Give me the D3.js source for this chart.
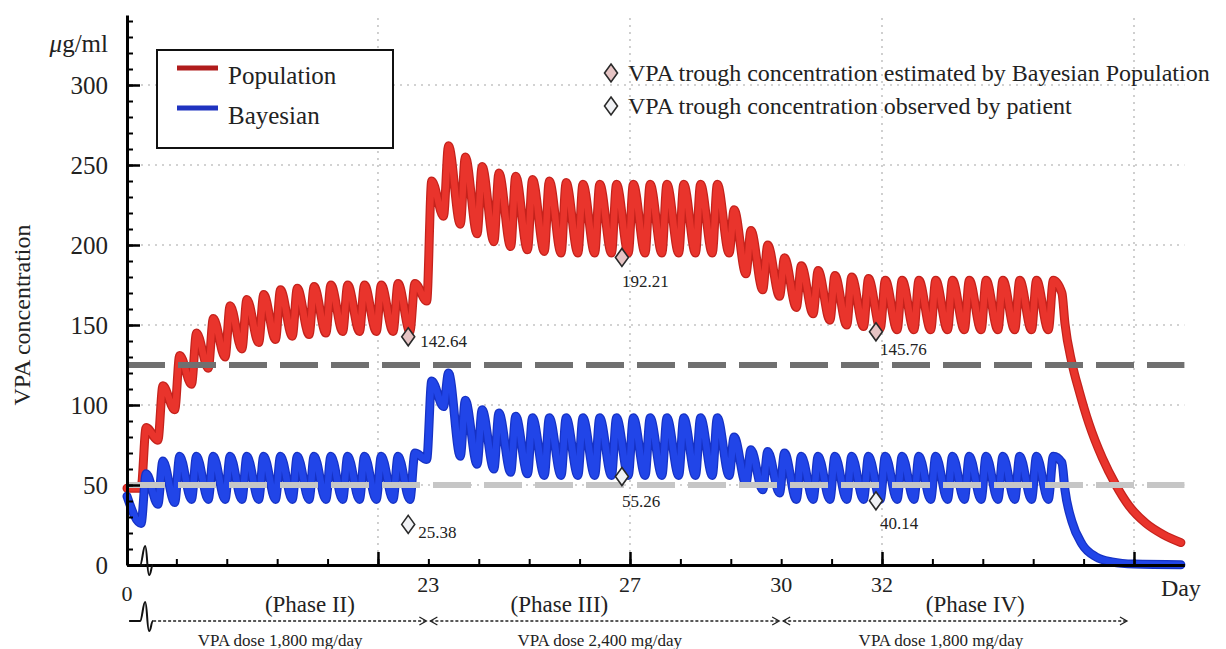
<!DOCTYPE html>
<html>
<head>
<meta charset="utf-8">
<script src="https://cdn.jsdelivr.net/npm/d3@7"></script>
<style>
body { margin: 0; background: #fff; }
svg { font-family: "Liberation Serif", "DejaVu Serif", serif; }
</style>
</head>
<body>
<div id="chart"></div>
<script>
// dosing schedule of the simulated window: one dose every 8 h
var firstDoseDay = 17.3;
var doseInterval = 1 / 3;
var riseDays = 0.1; // time from dose to peak

// Population model: trough before each dose, peak after it (ug/ml)
var popTrough = [48, 78, 97, 113, 123, 130, 135, 139, 141, 143, 144, 145, 146, 146, 146, 146, 146,
  165, 218, 213, 207, 202, 199, 197, 196, 195, 195, 195, 195, 195, 195, 195, 195, 195, 195,
  195, 182, 172, 168, 161, 157, 153, 150, 149, 148, 147, 147, 147, 147, 147, 147, 147, 147, 147, 147];
var popPeak = [86, 112, 131, 145, 154, 162, 166, 169, 172, 173, 174, 175, 175, 175, 175, 176, 176,
  240, 262, 255, 249, 245, 243, 241, 240, 239, 238, 238, 238, 238, 238, 238, 238, 238, 238,
  222, 209, 200, 192, 187, 184, 181, 180, 179, 178, 178, 178, 178, 178, 178, 178, 178, 178, 178, 178];

// Bayesian model
var bayTrough = [26, 38, 39, 41, 41, 41, 41, 41, 41, 41, 41, 41, 41, 41, 41, 41, 41,
  66, 99, 68, 63, 60, 58, 57, 56, 56, 56, 56, 56, 56, 56, 56, 56, 56, 56,
  56, 51, 47, 45, 41, 41, 41, 41, 41, 41, 41, 41, 41, 41, 41, 41, 41, 41, 41, 41];
var bayPeak = [57, 65, 68, 68, 68, 68, 68, 68, 68, 68, 68, 68, 68, 68, 68, 68, 70,
  115, 120, 103, 97, 95, 93, 92, 92, 92, 92, 92, 92, 92, 92, 92, 92, 92, 92,
  80, 72, 71, 70, 68, 68, 68, 68, 68, 68, 68, 68, 68, 68, 68, 68, 68, 68, 68, 68];

// concentration at day 0 and after the last dose [day, ug/ml]
var popStart = [[0, 48]];
var bayStart = [[0, 43]];
var popWashout = [[35.57, 170], [35.63, 151], [35.77, 126], [35.91, 109], [36.11, 88], [36.37, 67],
  [36.64, 50], [36.9, 37], [37.24, 26], [37.58, 19], [37.93, 14]];
var bayWashout = [[35.57, 64], [35.63, 47], [35.77, 27], [35.97, 13], [36.25, 5], [36.56, 2],
  [37.0, 0.6], [37.93, 0.2]];

// trough concentrations
var troughDays = [22.6, 26.84, 31.88];
var estTrough = [142.64, 192.21, 145.76];
var obsTrough = [25.38, 55.26, 40.14];

var refLines = [125, 50];
var yTicks = [0, 50, 100, 150, 200, 250, 300];
var xLabelDays = [23, 27, 30, 32];
var xMajorDays = [22, 27, 32, 37];
var phaseNames = ["(Phase II)", "(Phase III)", "(Phase IV)"];
var phaseDoses = ["VPA dose 1,800 mg/day", "VPA dose 2,400 mg/day", "VPA dose 1,800 mg/day"];
var phaseBounds = [17.38, 23, 30, 36.9];

var w = 1226, h = 649;
var svg = d3.select("#chart").append("svg").attr("width", w).attr("height", h);

// axis broken after day 0, linear from the break on
var x = d3.scaleLinear().domain([0, 17.1, 38]).range([127, 131, 1184.4]);
var y = d3.scaleLinear().domain([0, 343.75]).range([565, 15]);
var breakDay = 17.38;

// grid
var grid = svg.append("g").attr("stroke", "#c4c4c4").attr("stroke-width", 1.6).attr("stroke-dasharray", "2,5");
grid.selectAll("line.h").data(yTicks.slice(1)).enter().append("line")
  .attr("x1", 134).attr("x2", x(38)).attr("y1", d => y(d)).attr("y2", d => y(d));
grid.selectAll("line.v").data(xMajorDays).enter().append("line")
  .attr("x1", d => x(d)).attr("x2", d => x(d)).attr("y1", 18).attr("y2", y(0));

function buildSeries(start, troughs, peaks, washout) {
  var pts = start.slice();
  troughs.forEach(function(tr, k) {
    var t = firstDoseDay + k * doseInterval;
    pts.push([t, tr]);
    pts.push([t + riseDays, peaks[k]]);
  });
  return pts.concat(washout);
}

var line = d3.line().x(d => x(d[0])).y(d => y(d[1])).curve(d3.curveMonotoneX);

function drawCurve(pts, edge, fill) {
  var dd = line(pts);
  svg.append("path").attr("d", dd)
    .attr("fill", "none").attr("stroke", edge).attr("stroke-width", 9)
    .attr("stroke-linejoin", "round").attr("stroke-linecap", "round");
  svg.append("path").attr("d", dd)
    .attr("fill", "none").attr("stroke", fill).attr("stroke-width", 6.5)
    .attr("stroke-linejoin", "round").attr("stroke-linecap", "round");
}
drawCurve(buildSeries(popStart, popTrough, popPeak, popWashout), "#c4221c", "#e9342c");
drawCurve(buildSeries(bayStart, bayTrough, bayPeak, bayWashout), "#1632c4", "#2145e8");

// reference levels
svg.selectAll("line.ref").data(refLines).enter().append("line")
  .attr("x1", x(0)).attr("x2", x(38))
  .attr("y1", d => y(d)).attr("y2", d => y(d))
  .attr("stroke", (d, i) => i === 0 ? "#707070" : "#c6c6c6")
  .attr("stroke-width", 6)
  .attr("stroke-dasharray", "38,13");

// trough markers
var diamond = "M0,-9L6.5,0L0,9L-6.5,0Z";
var estOffset = [[12, 10], [0, 30], [4, 23]];
var obsOffset = [[10, 14], [0, 30], [4, 28]];

function markers(values, fill, offsets) {
  var g = svg.append("g");
  g.selectAll("path").data(values).enter().append("path")
    .attr("d", diamond)
    .attr("transform", (d, i) => "translate(" + x(troughDays[i]) + "," + y(d) + ")")
    .attr("fill", fill).attr("stroke", "#2a2a2a").attr("stroke-width", 1.6);
  g.selectAll("text").data(values).enter().append("text")
    .attr("x", (d, i) => x(troughDays[i]) + offsets[i][0])
    .attr("y", (d, i) => y(d) + offsets[i][1])
    .attr("font-size", 17).attr("fill", "#222")
    .text(d => d.toFixed(2));
}
markers(estTrough, "#e6c4c4", estOffset);
markers(obsTrough, "#f1f2f5", obsOffset);

// y axis
var yMinor = d3.range(0, 341, 10);
svg.append("g").attr("transform", "translate(" + x(0) + ",0)")
  .call(d3.axisLeft(y).tickValues(yMinor).tickSize(-6).tickSizeOuter(0).tickFormat(""))
  .call(g => g.select(".domain").attr("stroke-width", 3))
  .call(g => g.selectAll(".tick line").attr("stroke-width", 2));
svg.append("g").attr("transform", "translate(" + x(0) + ",0)")
  .call(d3.axisLeft(y).tickValues(yTicks).tickSize(-13).tickPadding(19))
  .call(g => g.select(".domain").remove())
  .call(g => g.selectAll(".tick line").attr("stroke-width", 2.5))
  .call(g => g.selectAll(".tick text").attr("font-size", 25).attr("fill", "#222")
    .attr("font-family", "Liberation Serif, serif"));

// x axis
var xMinor = d3.range(18, 38, 1);
svg.append("g").attr("transform", "translate(0," + y(0) + ")")
  .call(d3.axisBottom(x).tickValues(xMinor).tickSize(-6).tickSizeOuter(0).tickFormat(""))
  .call(g => g.select(".domain").attr("stroke-width", 3))
  .call(g => g.selectAll(".tick line").attr("stroke-width", 2));
svg.append("g").attr("transform", "translate(0," + y(0) + ")")
  .call(d3.axisBottom(x).tickValues(xMajorDays).tickSize(-13).tickFormat(""))
  .call(g => g.select(".domain").remove())
  .call(g => g.selectAll(".tick line").attr("stroke-width", 2.5));

svg.selectAll("text.xl").data(xLabelDays).enter().append("text")
  .attr("x", d => x(d)).attr("y", 592)
  .attr("text-anchor", "middle").attr("font-size", 22).attr("fill", "#222")
  .text(d => d);
svg.append("text").attr("x", x(0)).attr("y", 601)
  .attr("text-anchor", "middle").attr("font-size", 22).attr("fill", "#222").text("0");
svg.append("text").attr("x", x(37.93)).attr("y", 596)
  .attr("text-anchor", "middle").attr("font-size", 24).attr("fill", "#222").text("Day");

// axis break marks
function squiggle(cx, cy, lead) {
  return "M" + (cx - lead) + "," + cy + "H" + (cx - 5) +
    "C" + (cx - 3) + "," + cy + " " + (cx - 2) + "," + (cy - 19) + " " + cx + "," + (cy - 19) +
    "C" + (cx + 2) + "," + (cy - 19) + " " + (cx + 2) + "," + (cy + 10) + " " + (cx + 4) + "," + (cy + 10) +
    "C" + (cx + 6) + "," + (cy + 10) + " " + (cx + 6) + "," + cy + " " + (cx + 8) + "," + cy;
}
svg.append("path").attr("d", squiggle(x(breakDay), y(0), 0))
  .attr("fill", "none").attr("stroke", "#111").attr("stroke-width", 2);
svg.append("path").attr("d", squiggle(x(breakDay), 621, 16))
  .attr("fill", "none").attr("stroke", "#111").attr("stroke-width", 2);

// phase arrows
var arrowY = 621;
var phaseNameDay = [20.65, 25.6, 33.85];
var phaseDoseDay = [20.06, 26.4, 33.17];
var ph = svg.append("g").attr("stroke", "#222").attr("stroke-width", 1.3).attr("fill", "none");
phaseNames.forEach(function(name, i) {
  var a = x(phaseBounds[i]) + (i === 0 ? 8 : 2), b = x(phaseBounds[i + 1]) - 2;
  ph.append("line").attr("x1", a).attr("x2", b).attr("y1", arrowY).attr("y2", arrowY)
    .attr("stroke-dasharray", "3,2");
  ph.append("path").attr("d", "M" + (b - 7) + "," + (arrowY - 4) + "L" + b + "," + arrowY + "L" + (b - 7) + "," + (arrowY + 4));
  if (i > 0) ph.append("path").attr("d", "M" + (a + 7) + "," + (arrowY - 4) + "L" + a + "," + arrowY + "L" + (a + 7) + "," + (arrowY + 4));
  svg.append("text").attr("x", x(phaseNameDay[i])).attr("y", 612)
    .attr("text-anchor", "middle").attr("font-size", 23).attr("fill", "#222").text(name);
  svg.append("text").attr("x", x(phaseDoseDay[i])).attr("y", 646)
    .attr("text-anchor", "middle").attr("font-size", 17).attr("fill", "#222").text(phaseDoses[i]);
});

// axis titles
svg.append("text").attr("transform", "translate(30,315) rotate(-90)")
  .attr("text-anchor", "middle").attr("font-size", 24).attr("fill", "#222").text("VPA concentration");
var unit = svg.append("text").attr("x", 108).attr("y", 52)
  .attr("text-anchor", "end").attr("font-size", 25).attr("fill", "#222");
unit.append("tspan").attr("font-style", "italic").text("\u03bc");
unit.append("tspan").text("g/ml");

// line legend
var legend = svg.append("g");
legend.append("rect").attr("x", 157).attr("y", 50).attr("width", 236).attr("height", 98)
  .attr("fill", "#fff").attr("stroke", "#111").attr("stroke-width", 2);
[["Population", "#b01c1c"], ["Bayesian", "#1f33c0"]].forEach(function(d, i) {
  var ly = 68 + i * 40;
  legend.append("line").attr("x1", 177).attr("x2", 218).attr("y1", ly).attr("y2", ly)
    .attr("stroke", d[1]).attr("stroke-width", 5);
  legend.append("text").attr("x", 228).attr("y", ly + 16).attr("font-size", 25).attr("fill", "#222").text(d[0]);
});

// marker legend
[["VPA trough concentration estimated by Bayesian Population", "#e6c4c4"],
 ["VPA trough concentration observed by patient", "#f1f2f5"]].forEach(function(d, i) {
  var ly = 73 + i * 33;
  svg.append("path").attr("d", diamond).attr("transform", "translate(611," + ly + ")")
    .attr("fill", d[1]).attr("stroke", "#2a2a2a").attr("stroke-width", 1.6);
  svg.append("text").attr("x", 628).attr("y", ly + 8).attr("font-size", 24).attr("fill", "#222").text(d[0]);
});
</script>
</body>
</html>
